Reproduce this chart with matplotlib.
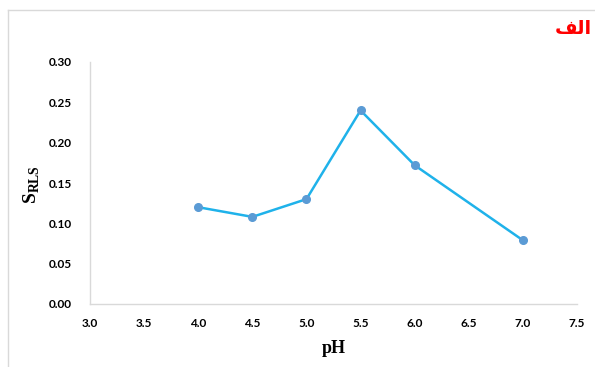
import matplotlib.pyplot as plt
from matplotlib.lines import Line2D

plt.rcParams['mathtext.fontset'] = 'custom'
plt.rcParams['mathtext.rm'] = 'Liberation Serif'
plt.rcParams['mathtext.bf'] = 'Liberation Serif:bold'

# data
ph = [4.0, 4.5, 5.0, 5.5, 6.0, 7.0]
s_rls = [0.120, 0.108, 0.130, 0.240, 0.172, 0.079]
x_ticks = [3.0, 3.5, 4.0, 4.5, 5.0, 5.5, 6.0, 6.5, 7.0, 7.5]
y_ticks = [0.00, 0.05, 0.10, 0.15, 0.20, 0.25, 0.30]

fig = plt.figure(figsize=(5.95, 3.67), dpi=100)
ax = fig.add_axes([90 / 595, 1 - 304 / 367, (577 - 90) / 595, (304 - 62) / 367])

ax.plot(ph, s_rls, color='#1fb2ea', lw=1.8, zorder=2)
ax.plot(ph, s_rls, 'o', color='#5b9bd5', ms=5.5, zorder=3)

ax.set_xlim(3.0, 7.5)
ax.set_ylim(0.0, 0.30)
ax.set_xticks(x_ticks)
ax.set_yticks(y_ticks)
ax.set_xticklabels([f"{v:.1f}" for v in x_ticks], fontweight='bold', fontsize=8.5, family='Lato')
ax.set_yticklabels([f"{v:.2f}" for v in y_ticks], fontweight='bold', fontsize=8.5, family='Lato')
ax.tick_params(length=0)
ax.tick_params(axis='y', pad=13)
ax.tick_params(axis='x', pad=10)

for side in ['top', 'right']:
    ax.spines[side].set_visible(False)
for side in ['left', 'bottom']:
    ax.spines[side].set_color('#d9d9d9')
    ax.spines[side].set_linewidth(1.0)

ax.set_xlabel('pH', family='Liberation Serif', fontweight='bold', fontsize=13, labelpad=8)
fig.text(32 / 595, 1 - 185 / 367, r'S$_{\mathbf{RLS}}$', rotation=90, family='Liberation Serif',
         fontweight='bold', fontsize=14, ha='center', va='center')

# outer chart frame (only top and left edges visible)
fx, fy = 8 / 595, 1 - 10 / 367
fig.add_artist(Line2D([fx, 1.0], [fy, fy], transform=fig.transFigure, color='#d9d9d9', lw=1.0))
fig.add_artist(Line2D([fx, fx], [0.0, fy], transform=fig.transFigure, color='#d9d9d9', lw=1.0))

# panel letter "الف" (presentation forms in visual order)
fig.text(592 / 595, 1 - 29 / 367, '\ufed2\ufedf\ufe8d', color='#ff0000', fontsize=14,
         fontweight='bold', family='DejaVu Sans', ha='right', va='center')

fig.savefig('out.png', dpi=100)
